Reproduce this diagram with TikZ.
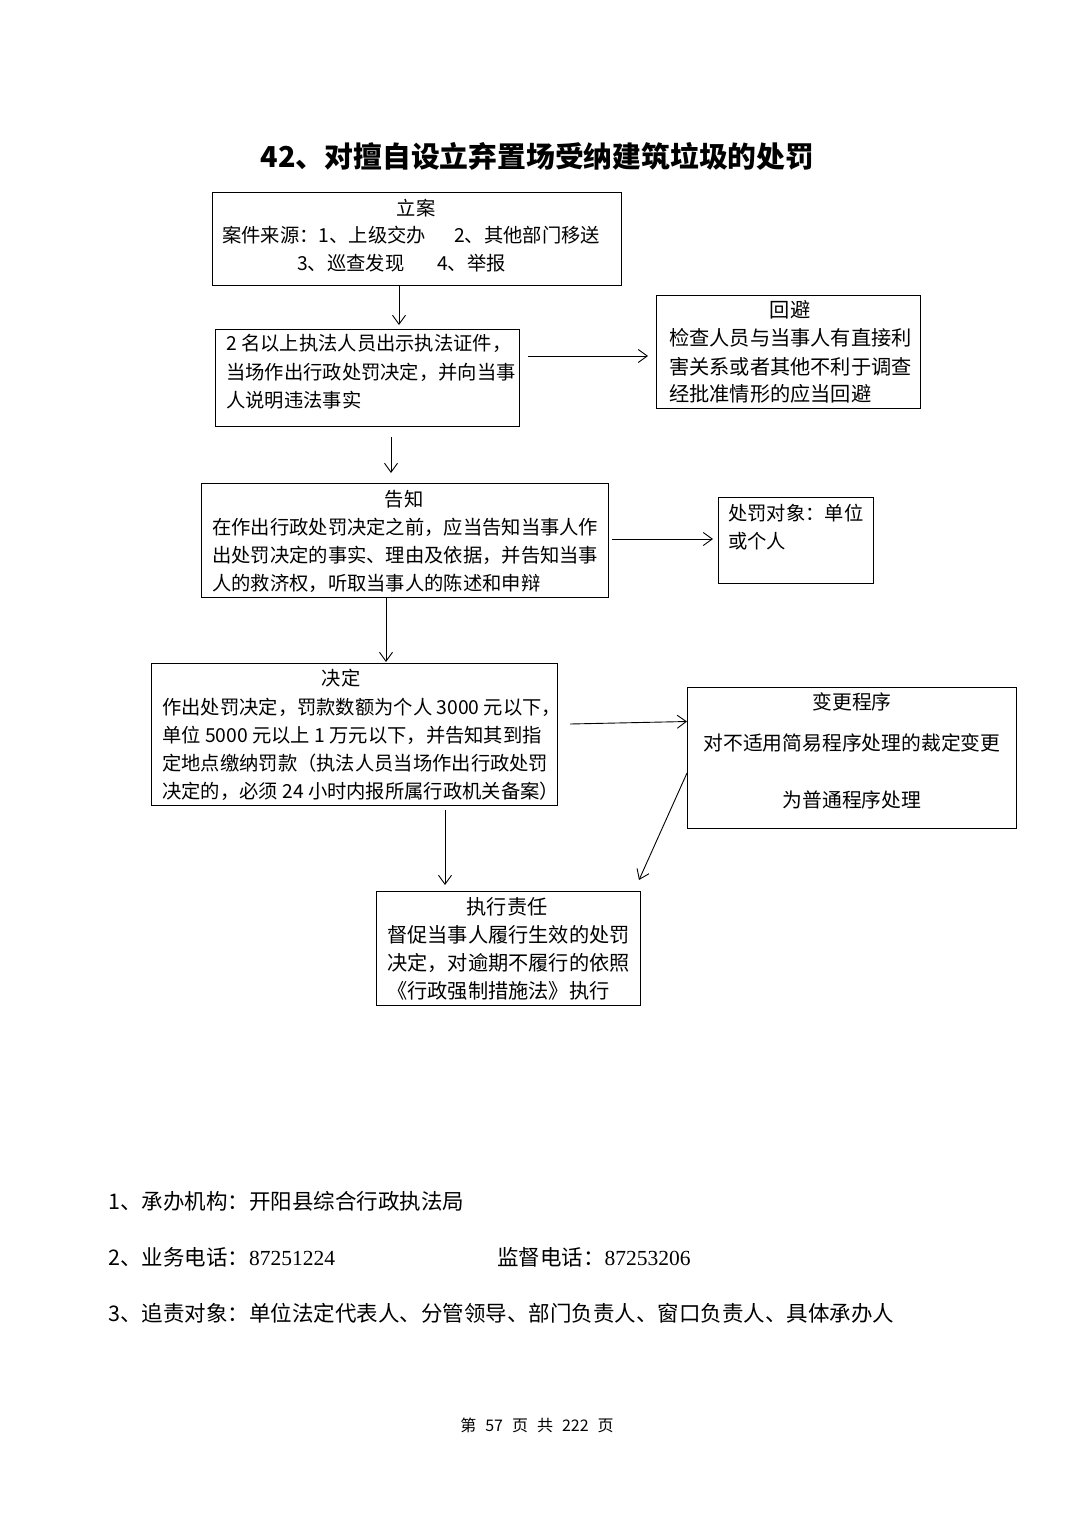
\documentclass[tikz,border=0pt]{standalone}
\usepackage{fontspec}
\setmainfont{Noto Sans CJK SC}
\newfontfamily\numfont{Liberation Serif}
\usetikzlibrary{arrows.meta}
\begin{document}
\begin{tikzpicture}[x=1pt,y=-1pt,
  box/.style={draw=black, line width=0.9pt, inner sep=0pt, outer sep=0pt, anchor=north west},
  tx/.style={inner sep=0pt, anchor=base west, font=\fontsize{19.3}{23}\selectfont},
  txc/.style={tx, anchor=base},
  txw/.style={inner sep=0pt, anchor=base west, font=\fontsize{20.2}{24}\selectfont},
  txb/.style={inner sep=0pt, anchor=base west, font=\fontsize{21.5}{26}\selectfont},
  arr/.style={draw=black, line width=0.9pt, -{Straight Barb[length=9pt,width=13pt]}}
]
\useasboundingbox (0,0) rectangle (1074,1520);
\fill[white] (0,0) rectangle (1074,1520);

% title
\node[inner sep=0pt, anchor=base, font=\fontsize{28.8}{34}\selectfont\bfseries] (title) at (537.5,167) {42、对擅自设立弃置场受纳建筑垃圾的处罚};

% boxes
\node[box, minimum width=409pt, minimum height=93pt] (lian) at (212,192) {};
\node[box, minimum width=304pt, minimum height=97pt] (zhifa) at (215,329) {};
\node[box, minimum width=264pt, minimum height=113pt] (huibi) at (656,295) {};
\node[box, minimum width=407pt, minimum height=114pt] (gaozhi) at (201,483) {};
\node[box, minimum width=155pt, minimum height=86pt] (duixiang) at (718,497) {};
\node[box, minimum width=406pt, minimum height=142pt] (jueding) at (151,663) {};
\node[box, minimum width=329pt, minimum height=141pt] (biangeng) at (687,687) {};
\node[box, minimum width=264pt, minimum height=114pt] (zhixing) at (376,891) {};

% texts: 立案
\node[txc] (t1a) at (416,215) {立案};
\node[tx] (t1b) at (222,242) {案件来源：1、上级交办};
\node[tx] (t1c) at (454,242) {2、其他部门移送};
\node[tx] (t1d) at (297,270) {3、巡查发现};
\node[tx] (t1e) at (437,270) {4、举报};

% 执法
\node[tx] (t2a) at (226,350) {2 名以上执法人员出示执法证件，};
\node[tx] (t2b) at (226,379) {当场作出行政处罚决定，并向当事};
\node[tx] (t2c) at (226,407) {人说明违法事实};

% 回避
\node[txw, anchor=base] (t3a) at (790,317) {回避};
\node[txw] (t3b) at (669,345) {检查人员与当事人有直接利};
\node[txw] (t3c) at (669,374) {害关系或者其他不利于调查};
\node[txw] (t3d) at (669,401) {经批准情形的应当回避};

% 告知
\node[txc] (t4a) at (404,506) {告知};
\node[tx] (t4b) at (212,534) {在作出行政处罚决定之前，应当告知当事人作};
\node[tx] (t4c) at (212,562) {出处罚决定的事实、理由及依据，并告知当事};
\node[tx] (t4d) at (212,590) {人的救济权，听取当事人的陈述和申辩};

% 处罚对象
\node[tx] (t5a) at (728,520) {处罚对象：单位};
\node[tx] (t5b) at (728,548) {或个人};

% 决定
\node[txc] (t6a) at (341,685) {决定};
\node[tx] (t6b) at (162,714) {作出处罚决定，罚款数额为个人 3000 元以下，};
\node[tx] (t6c) at (162,742) {单位 5000 元以上 1 万元以下，并告知其到指};
\node[tx] (t6d) at (162,770) {定地点缴纳罚款（执法人员当场作出行政处罚};
\node[tx] (t6e) at (162,798) {决定的，必须 24 小时内报所属行政机关备案）};

% 变更程序
\node[txc, font=\fontsize{19.8}{24}\selectfont] (t7a) at (852,709) {变更程序};
\node[txc, font=\fontsize{19.8}{24}\selectfont] (t7b) at (852,750) {对不适用简易程序处理的裁定变更};
\node[txc, font=\fontsize{19.8}{24}\selectfont] (t7c) at (852,807) {为普通程序处理};

% 执行责任
\node[txw, anchor=base] (t8a) at (507,914) {执行责任};
\node[txw] (t8b) at (387,942) {督促当事人履行生效的处罚};
\node[txw] (t8c) at (387,970) {决定，对逾期不履行的依照};
\node[txw] (t8d) at (387,998) {《行政强制措施法》执行};

% helper coordinates for connector alignment
\coordinate (c1) at (399,0);
\coordinate (c2) at (0,356);
\coordinate (c3) at (391,0);
\coordinate (c4) at (0,539);
\coordinate (c5) at (386,0);
\coordinate (c7) at (445,0);

% connectors
\draw[arr, shorten >=4pt] (lian.south -| c1) -- (zhifa.north -| c1);
\draw[arr, shorten <=9pt, shorten >=8pt] (zhifa.east |- c2) -- (huibi.west |- c2);
\draw[arr, shorten <=11pt, shorten >=10pt] (zhifa.south -| c3) -- (gaozhi.north -| c3);
\draw[arr, shorten <=4pt, shorten >=5pt] (gaozhi.east |- c4) -- (duixiang.west |- c4);
\draw[arr, shorten >=1pt] (gaozhi.south -| c5) -- (jueding.north -| c5);
\draw[arr] ([xshift=13pt,yshift=10pt]jueding.east) -- ([yshift=36pt]biangeng.west);
\draw[arr, shorten <=5pt, shorten >=6pt] (jueding.south -| c7) -- (zhixing.north -| c7);
\draw[arr] ([yshift=-15.5pt]biangeng.west) -- ([xshift=-1pt,yshift=11pt]zhixing.north east);

% bottom text
\node[txb] (b1) at (108,1209) {1、承办机构：开阳县综合行政执法局};
\node[txb] (b2) at (108,1265) {2、业务电话：{\numfont 87251224}};
\node[txb] (b3) at (497,1265) {监督电话：{\numfont 87253206}};
\node[txb] (b4) at (108,1321) {3、追责对象：单位法定代表人、分管领导、部门负责人、窗口负责人、具体承办人};

% footer
\node[inner sep=0pt, anchor=base, font=\fontsize{16}{19}\selectfont] (foot) at (537,1431) {第\hspace{9pt}57\hspace{9pt}页\hspace{9pt}共\hspace{9pt}222\hspace{9pt}页};
\end{tikzpicture}
\end{document}
